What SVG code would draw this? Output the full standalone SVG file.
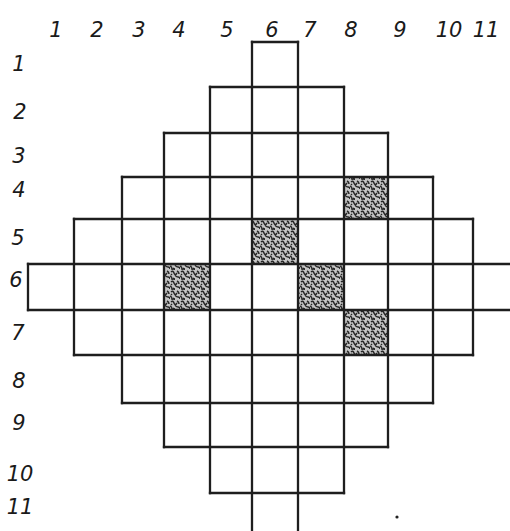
<svg xmlns="http://www.w3.org/2000/svg" width="510" height="531" viewBox="0 0 510 531">
<defs>
<style>
.g{stroke:#1e1e1e;stroke-width:2.3;fill:none;stroke-linecap:square}
.lbl{font-family:"DejaVu Sans","Liberation Sans",sans-serif;font-style:italic;font-size:21px;fill:#1a1a1a;text-anchor:middle}
.sh{fill:url(#stip)}
</style>
<pattern id="stip" width="10" height="10" patternUnits="userSpaceOnUse">
<rect width="10" height="10" fill="#c4c4c4"/>
<path d="M1 2q2-2 3 1t3 0M7 1q2 1 2 3M0 6q2 1 2 3t3 1M5 5q1 2 3 2t2 2M3 8q1 1 2 1M1 4l1 1" stroke="#262626" stroke-width="1.5" fill="none"/>
</pattern>
</defs>
<rect width="510" height="531" fill="#fff"/>
<g id="shaded">
<rect class="sh" x="344" y="177" width="44" height="42"/>
<rect class="sh" x="252" y="219" width="46" height="45"/>
<rect class="sh" x="164" y="264" width="46" height="46"/>
<rect class="sh" x="298" y="264" width="46" height="46"/>
<rect class="sh" x="344" y="310" width="44" height="45"/>
</g>
<g id="grid" class="g">
<path d="M252 42H298M210 87H344M164 133H388M122 177H433M74 219H473M28 264H510M28 310H510M74 355H473M122 403H433M164 447H388M210 493H344"/>
<path d="M28 264V310M74 219V355M122 177V403M164 133V447M210 87V493M252 42V531M298 42V531M344 87V493M388 133V447M433 177V403M473 219V355"/>
</g>
<g id="col-labels" class="lbl">
<text x="56" y="37">1</text>
<text x="97" y="37">2</text>
<text x="139" y="37">3</text>
<text x="179" y="37">4</text>
<text x="227" y="37">5</text>
<text x="272" y="37">6</text>
<text x="310" y="37">7</text>
<text x="351" y="37">8</text>
<text x="400" y="37">9</text>
<text x="449" y="37">10</text>
<text x="486" y="37">11</text>
</g>
<g id="row-labels" class="lbl">
<text x="19" y="71">1</text>
<text x="20" y="119">2</text>
<text x="19" y="163">3</text>
<text x="19" y="197">4</text>
<text x="18" y="245">5</text>
<text x="16" y="287">6</text>
<text x="18" y="340">7</text>
<text x="19" y="388">8</text>
<text x="19" y="430">9</text>
<text x="20" y="481">10</text>
<text x="20" y="514">11</text>
</g>
<circle cx="397" cy="517" r="1.6" fill="#222"/>
</svg>
